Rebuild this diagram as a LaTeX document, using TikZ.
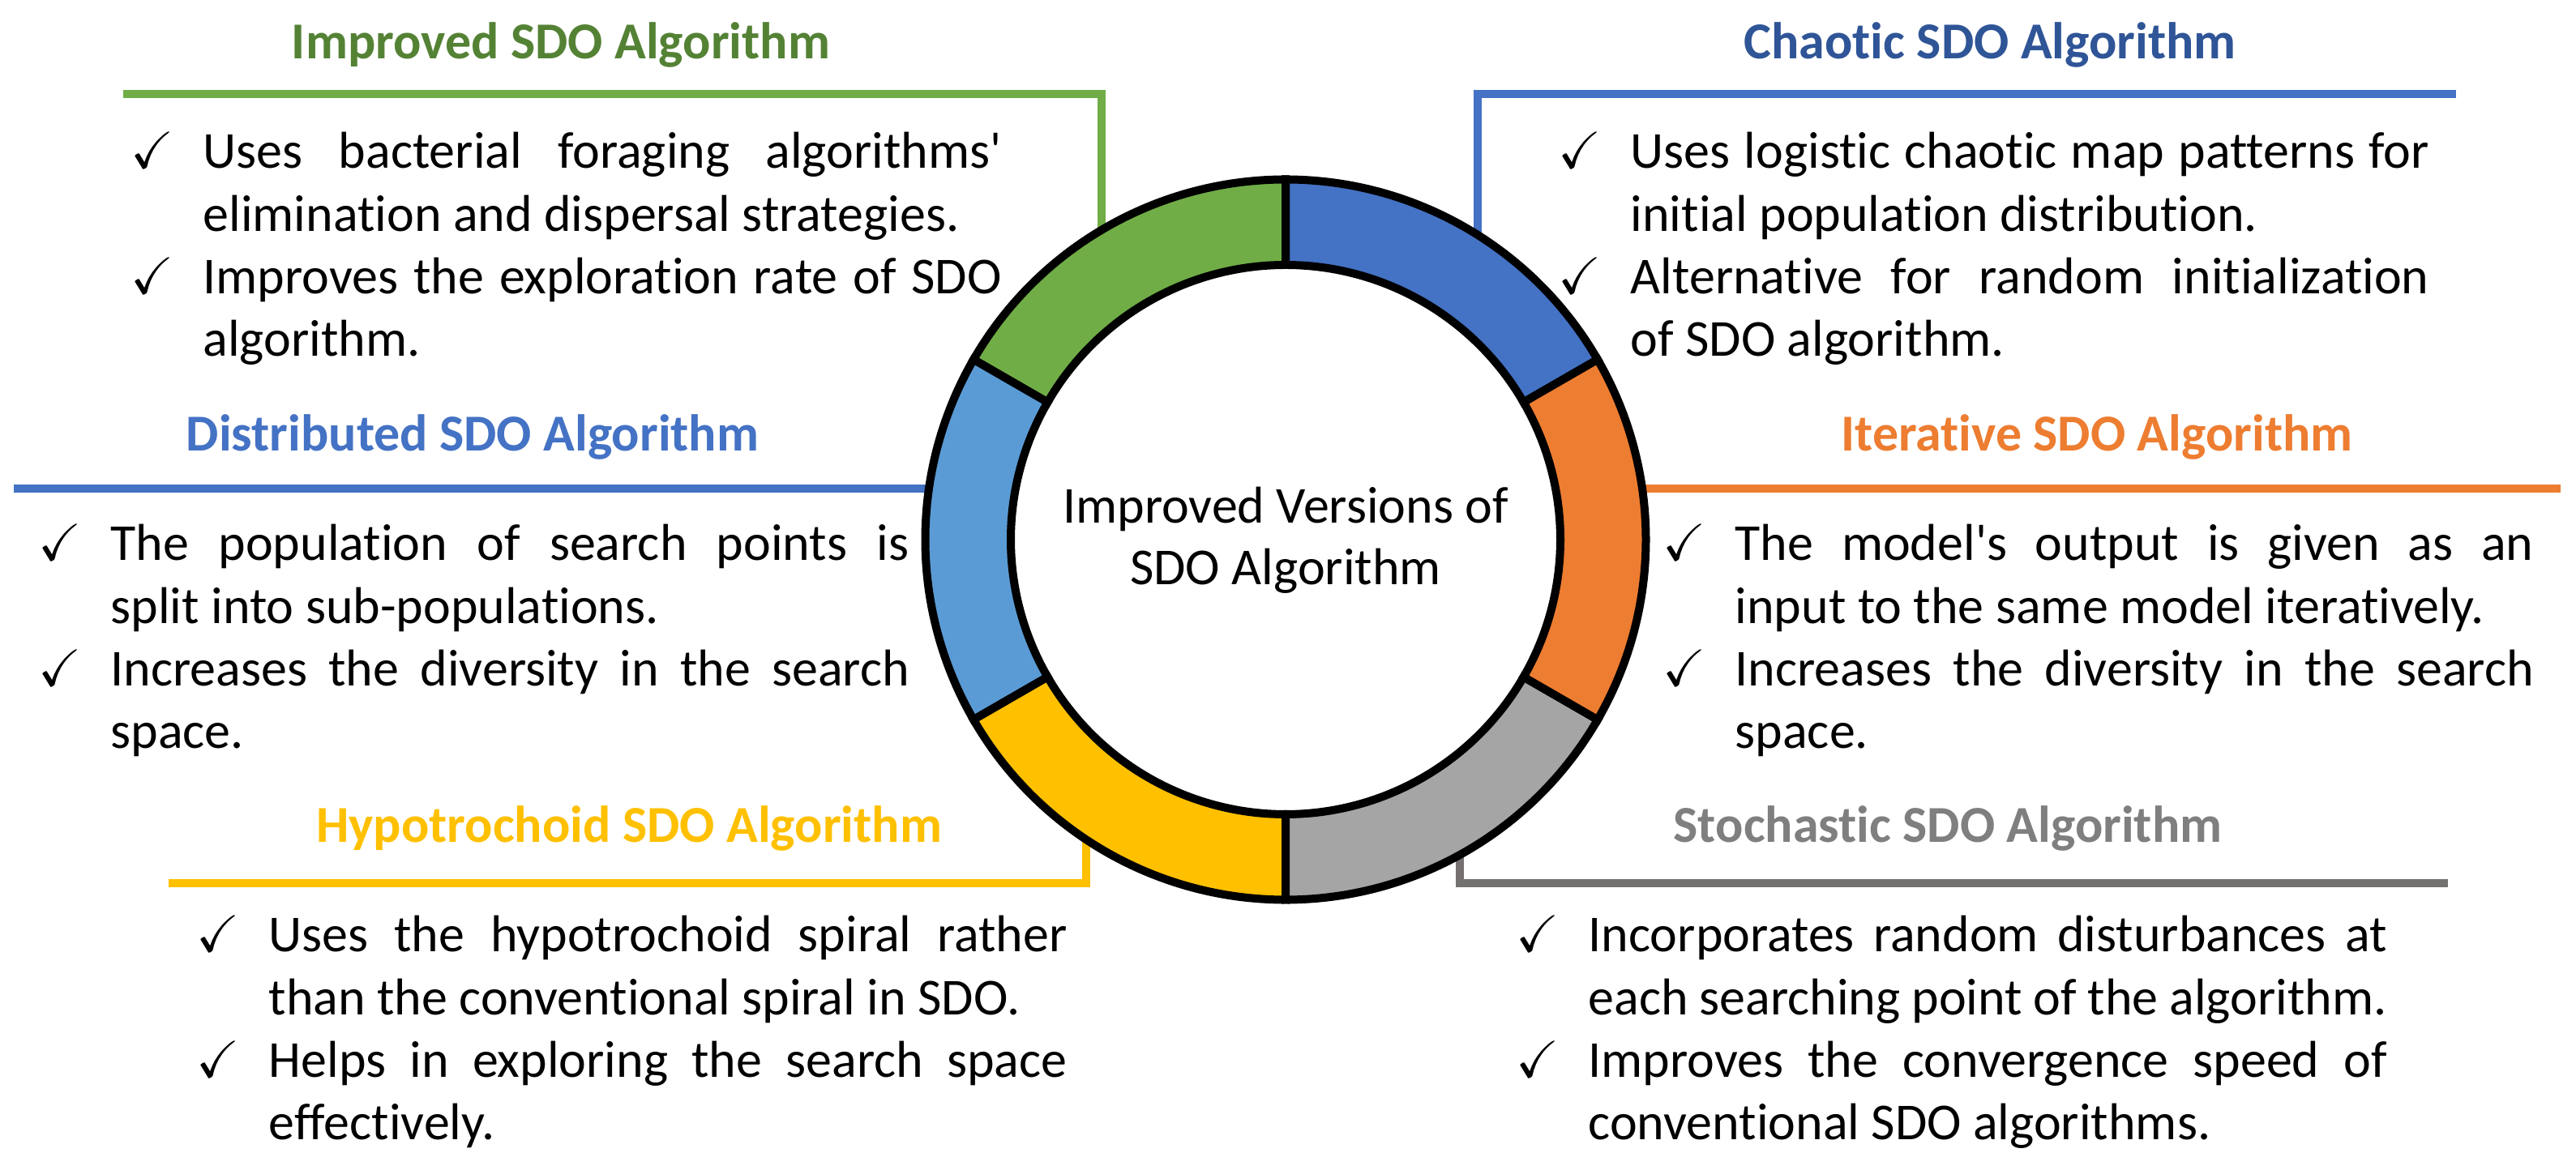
\documentclass[tikz,border=0pt]{standalone}
\usepackage{amssymb}
\usepackage{fontspec}
\setmainfont{Carlito}[Ligatures={TeXOff,CommonOff}]

\definecolor{ringgreen}{HTML}{70AD47}
\definecolor{ringblue}{HTML}{4472C4}
\definecolor{ringsky}{HTML}{5B9BD5}
\definecolor{ringorange}{HTML}{ED7D31}
\definecolor{ringyellow}{HTML}{FFC000}
\definecolor{ringgray}{HTML}{A5A5A5}
\definecolor{greenhead}{HTML}{548235}
\definecolor{bluehead}{HTML}{2F5597}
\definecolor{grayhead}{HTML}{7F7F7F}
\definecolor{grayline}{HTML}{767171}

\newcommand{\tick}{\noindent\llap{\makebox[0.89cm][l]{$\checkmark$}}}
\newcommand{\nobreaks}{\hyphenpenalty=10000\relax\exhyphenpenalty=10000\relax\tolerance=10000\relax}

\begin{document}
\begin{tikzpicture}[
    heading/.style={anchor=base, inner sep=0pt, font=\bfseries\fontsize{18.2pt}{22pt}\selectfont},
    blurb/.style={anchor=base west, inner sep=0pt, text width=9.85cm, align=justify,
        font=\fontsize{18.2pt}{22pt}\selectfont, execute at begin node=\nobreaks},
    bracket/.style={line width=0.1cm}
]
\fill[white] (0,0) rectangle (31.78,14.44);

% brackets behind the ring
\draw[bracket, ringgreen] (1.52,13.28) -- (13.59,13.28) -- (13.59,11.3);
\draw[bracket, ringblue] (30.30,13.28) -- (18.23,13.28) -- (18.23,11.3);
\draw[bracket, ringblue] (0.17,8.41) -- (11.8,8.41);
\draw[bracket, ringorange] (31.59,8.41) -- (19.9,8.41);
\draw[bracket, ringyellow] (2.08,3.54) -- (13.40,3.54) -- (13.40,4.4);
\draw[bracket, grayline] (30.20,3.54) -- (18.01,3.54) -- (18.01,4.4);

% ring
\coordinate (ring) at (15.86,7.78);
\begin{scope}[shift={(ring)}]
    \foreach \a/\col in {30/ringblue, 90/ringgreen, 150/ringsky, 210/ringyellow, 270/ringgray, 330/ringorange}
        \draw[fill=\col, line width=0.1cm] (\a:4.445) arc (\a:\a+60:4.445) -- (\a+60:3.39) arc (\a+60:\a:3.39) -- cycle;
\end{scope}
\node[align=center, inner sep=0pt, font=\fontsize{18.2pt}{21.8pt}\selectfont] (hub) at (15.86,7.77) {Improved Versions of\\SDO Algorithm};

% headings
\node[heading, text=greenhead] (improvedtitle) at (6.92,13.71) {Improved SDO Algorithm};
\node[heading, text=bluehead] (chaotictitle) at (24.55,13.71) {Chaotic SDO Algorithm};
\node[heading, text=ringblue] (distributedtitle) at (5.83,8.87) {Distributed SDO Algorithm};
\node[heading, text=ringorange] (iterativetitle) at (25.87,8.87) {Iterative SDO Algorithm};
\node[heading, text=ringyellow] (hypotitle) at (7.76,4.04) {Hypotrochoid SDO Algorithm};
\node[heading, text=grayhead] (stochastictitle) at (24.03,4.04) {Stochastic SDO Algorithm};

% bullet texts
\node[blurb] (improvedtext) at (2.50,12.36) {\tick Uses bacterial foraging algorithms'\linebreak elimination and dispersal strategies.\par
    \tick Improves the exploration rate of SDO\linebreak algorithm.};
\node[blurb] (chaotictext) at (20.11,12.36) {\tick Uses logistic chaotic map patterns for\linebreak initial population distribution.\par
    \tick Alternative for random initialization\linebreak of SDO algorithm.};
\node[blurb] (distributedtext) at (1.36,7.52) {\tick The population of search points is\linebreak split into sub-populations.\par
    \tick Increases the diversity in the search\linebreak space.};
\node[blurb] (iterativetext) at (21.40,7.52) {\tick The model's output is given as an\linebreak input to the same model iteratively.\par
    \tick Increases the diversity in the search\linebreak space.};
\node[blurb] (hypotext) at (3.31,2.69) {\tick Uses the hypotrochoid spiral rather\linebreak than the conventional spiral in SDO.\par
    \tick Helps in exploring the search space\linebreak effectively.};
\node[blurb] (stochastictext) at (19.59,2.69) {\tick Incorporates random disturbances at\linebreak each searching point of the algorithm.\par
    \tick Improves the convergence speed of\linebreak conventional SDO algorithms.};
\end{tikzpicture}
\end{document}
